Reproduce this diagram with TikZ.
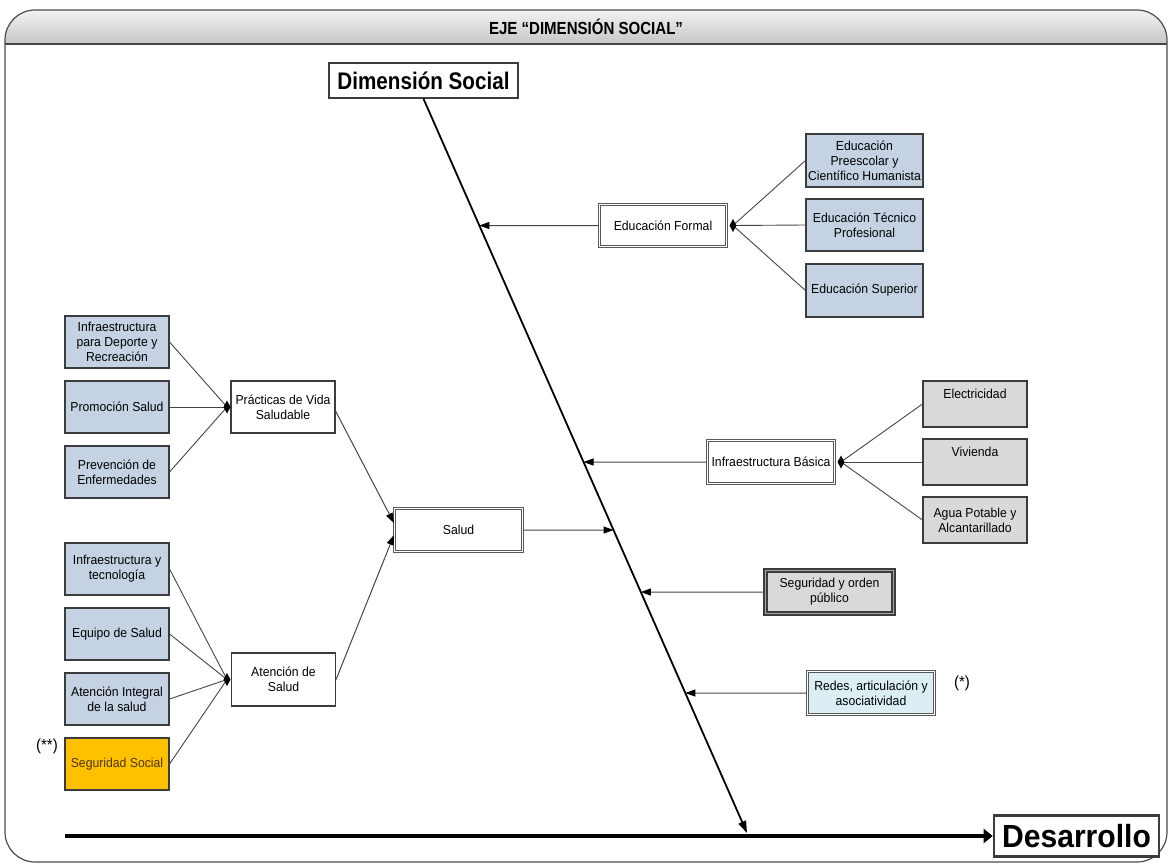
\documentclass[tikz,border=0pt]{standalone}
\usepackage{fontspec}
\setmainfont[FakeStretch=0.94]{Liberation Sans}
\newfontfamily\headfont[FakeStretch=0.86]{Liberation Sans}
\usetikzlibrary{arrows.meta}

\definecolor{boxline}{HTML}{3C3C3C}
\definecolor{linkgray}{HTML}{454545}
\definecolor{blueFill}{HTML}{C5D2E3}
\definecolor{grayFill}{HTML}{D9D9D9}
\definecolor{cyanFill}{HTML}{DAEEF3}
\definecolor{orangeFill}{HTML}{FFC000}
\definecolor{orangeText}{HTML}{4A3800}

\tikzset{
  every node/.style={font=\fontsize{13}{15}\selectfont, align=center, inner sep=0pt},
  sz/.style 2 args={minimum width=#1pt, minimum height=#2pt},
  bluebox/.style={rectangle, draw=boxline, line width=1.1pt, fill=blueFill},
  graybox/.style={rectangle, draw=boxline, line width=1.1pt, fill=grayFill},
  orangebox/.style={rectangle, draw=boxline, line width=1.1pt, fill=orangeFill, text=orangeText},
  plainbox/.style={rectangle, draw=boxline, line width=1.1pt, fill=white},
  dblbox/.style={rectangle, draw=boxline!85, line width=1.1pt, double=white, double distance=1.6pt, fill=white},
  heavybox/.style={rectangle, draw=boxline, line width=1.5pt, double=gray!70, double distance=1.2pt},
  branch/.style={draw=linkgray, line width=0.9pt},
  feed/.style={draw=linkgray, line width=1pt, -{Triangle[length=10pt,width=7pt,color=black]}},
  spine/.style={draw=black, line width=1.8pt, -{Triangle[length=12pt,width=8pt]}},
  axis/.style={draw=black, line width=3.5pt, -{Triangle[length=9pt,width=14pt]}},
  title/.style={font=\headfont\bfseries\fontsize{24}{26}\selectfont},
}
% small black diamond where branches meet
\newcommand\joint[1]{\fill[black] (#1) ++(0,-6.5) -- ++(3.5,6.5) -- ++(-3.5,6.5) -- ++(-3.5,-6.5) -- cycle;}

\begin{document}
\begin{tikzpicture}[x=1pt,y=-1pt]
\useasboundingbox (0,0) rectangle (1171,867);

% frame with shaded header band
\begin{scope}
  \clip[rounded corners=30pt] (5,10) rectangle (1167,862);
  \shade[top color=gray!10, bottom color=gray!45] (5,10) rectangle (1167,44);
\end{scope}
\draw[gray!55!black, line width=2pt] (5,44) -- (1167,44);
\draw[gray!60!black, line width=1.2pt, rounded corners=30pt] (5,10) rectangle (1167,862);
\node[font=\headfont\bfseries\fontsize{17.5}{19}\selectfont] (head) at (586,27) {EJE “DIMENSIÓN SOCIAL”};

% main axis
\node[plainbox, line width=1.6pt, sz={189}{35}, title] (dimS) at (423.5,80.5) {Dimensión Social};
\node[plainbox, line width=2.6pt, sz={165}{41}, font=\bfseries\fontsize{32}{33}\selectfont] (desa) at (1076.5,836) {Desarrollo};
\coordinate (axisStart) at (65,836);
\coordinate (spineEnd) at (747,833);
\draw[axis] (axisStart) -- (desa.west);
\draw[spine] (dimS.south) -- (spineEnd);

% Educación Formal
\node[dblbox, sz={127}{42}] (eduF) at (663,225.5) {Educación Formal};
\node[bluebox, sz={117}{53}] (edu1) at (864.5,160.5) {Educación\\Preescolar y\\Científico Humanista};
\node[bluebox, sz={117}{52}] (edu2) at (864.5,225) {Educación Técnico\\Profesional};
\node[bluebox, sz={117}{53}] (edu3) at (864.5,290.5) {Educación Superior};
\coordinate (jEdu) at (733,225.5);
\foreach \b in {edu1,edu2,edu3} \draw[branch] (jEdu) -- (\b.west);
\joint{jEdu}
\coordinate (tEdu) at (intersection of dimS.south--spineEnd and eduF.west--eduF.east);
\draw[feed] (eduF.west) -- (tEdu);

% Infraestructura Básica
\node[dblbox, sz={127}{43}] (infB) at (771,462) {Infraestructura Básica};
\node[graybox, sz={104}{46}] (elec) at (975,404) {Electricidad\\\strut};
\node[graybox, sz={104}{46}] (viv) at (975,462) {Vivienda\\\strut};
\node[graybox, sz={104}{46}] (agua) at (975,520) {Agua Potable y\\Alcantarillado};
\coordinate (jInf) at (841,462);
\foreach \b in {elec,viv,agua} \draw[branch] (jInf) -- (\b.west);
\joint{jInf}
\coordinate (tInf) at (intersection of dimS.south--spineEnd and infB.west--infB.east);
\draw[feed] (infB.west) -- (tInf);

% Seguridad y orden público
\node[heavybox, fill=grayFill, sz={128}{43}] (segO) at (829.5,592) {Seguridad y orden\\público};
\coordinate (tSeg) at (intersection of dimS.south--spineEnd and segO.west--segO.east);
\draw[feed] (segO.west) -- (tSeg);

% Redes
\node[dblbox, fill=cyanFill, sz={127}{43}] (redes) at (871,693) {Redes, articulación y\\asociatividad};
\node[font=\fontsize{16}{17}\selectfont] (ast) at (962,683) {(*)};
\coordinate (tRed) at (intersection of dimS.south--spineEnd and redes.west--redes.east);
\draw[feed] (redes.west) -- (tRed);

% Salud
\node[dblbox, draw=gray!70!black, sz={128}{43}] (salud) at (458.5,530) {Salud};
\coordinate (tSal) at (intersection of dimS.south--spineEnd and salud.west--salud.east);
\draw[feed] (salud.east) -- (tSal);

% Prácticas de Vida Saludable
\node[plainbox, sz={104}{52}] (prac) at (283,407) {Prácticas de Vida\\Saludable};
\node[bluebox, sz={104}{52}] (pr1) at (117,342) {Infraestructura\\para Deporte y\\Recreación};
\node[bluebox, sz={104}{52}] (pr2) at (117,407) {Promoción Salud};
\node[bluebox, sz={104}{52}] (pr3) at (117,472) {Prevención de\\Enfermedades};
\coordinate (jPr) at (227,407);
\foreach \b in {pr1,pr2,pr3} \draw[branch] (\b.east) -- (jPr);
\joint{jPr}
\draw[feed] ([yshift=-4pt]prac.east) -- ([yshift=7pt]salud.west);

% Atención de Salud
\node[plainbox, sz={104}{53}] (aten) at (283.5,679.5) {Atención de\\Salud};
\node[bluebox, sz={104}{52}] (at1) at (117,569) {Infraestructura y\\tecnología};
\node[bluebox, sz={104}{52}] (at2) at (117,634) {Equipo de Salud};
\node[bluebox, sz={104}{52}] (at3) at (117,699) {Atención Integral\\de la salud};
\node[orangebox, sz={104}{52}] (at4) at (117,764) {Seguridad Social};
\node[font=\fontsize{16}{17}\selectfont] (ast2) at (47,746) {(**)};
\coordinate (jAt) at (227,679.5);
\foreach \b in {at1,at2,at3,at4} \draw[branch] (\b.east) -- (jAt);
\joint{jAt}
\draw[feed] (aten.east) -- ([yshift=-5pt]salud.west);

\end{tikzpicture}
\end{document}
